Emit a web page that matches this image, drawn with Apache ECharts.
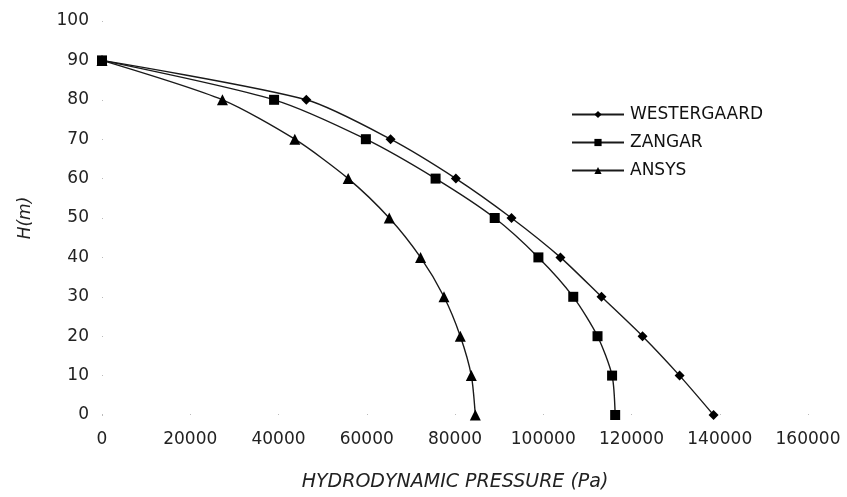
<!DOCTYPE html>
<html><head><meta charset="utf-8">
<script src="https://cdn.jsdelivr.net/npm/echarts@6/dist/echarts.min.js"></script>
<style>html,body{margin:0;padding:0;background:#fff}#c{width:847px;height:497px}</style>
</head><body><div id="c"></div>
<script>
const heights = [90, 80, 70, 60, 50, 40, 30, 20, 10, 0];
const westergaard = [0, 46300, 65400, 80200, 92800, 103900, 113200, 122500, 130900, 138600];
const zangar = [0, 39000, 59800, 75600, 89000, 98900, 106800, 112300, 115600, 116300];
const ansys = [0, 27300, 43700, 55800, 65100, 72200, 77500, 81200, 83700, 84600];
const xTicks = [0, 20000, 40000, 60000, 80000, 100000, 120000, 140000, 160000];
const yTicks = [0, 10, 20, 30, 40, 50, 60, 70, 80, 90, 100];

const font = 'DejaVu Sans, sans-serif';
function pts(v){ return v.map((x,i)=>[x, heights[i]]); }
function mk(name, data, symbol, size){
  return {
    name, type:'line', data: pts(data), symbol, symbolSize:size, smooth:0.25,
    lineStyle:{color:'#1a1a1a', width:1.4}, itemStyle:{color:'#000'},
    showSymbol:true, animation:false, z: 3
  };
}
const chart = echarts.init(document.getElementById('c'), null, {renderer:'canvas'});
chart.setOption({
  backgroundColor:'#fff',
  animation:false,
  grid:{left:102, right:39, top:21, bottom:82, containLabel:false, outerBoundsMode:'none'},
  legend:{
    orient:'vertical', left:566, top:101, itemWidth:52, itemHeight:9, itemGap:11,
    textStyle:{fontFamily:font, fontSize:17, color:'#111', padding:[0,0,0,1]},
    data:['WESTERGAARD','ZANGAR','ANSYS']
  },
  xAxis:{
    type:'value', min:0, max:160000, interval:20000,
    axisLine:{show:false}, axisTick:{show:true, inside:true, length:1, lineStyle:{color:'#bbb'}},
    splitLine:{show:false},
    axisLabel:{fontFamily:font, fontSize:17, color:'#222', margin:16, formatter: v => String(v)},
    name:'HYDRODYNAMIC PRESSURE (Pa)', nameLocation:'middle', nameGap:58,
    nameTextStyle:{fontFamily:font, fontSize:19, fontStyle:'italic', color:'#222'}
  },
  yAxis:{
    type:'value', min:0, max:100, interval:10,
    axisLine:{show:false}, axisTick:{show:true, inside:true, length:1, lineStyle:{color:'#bbb'}},
    splitLine:{show:false},
    axisLabel:{fontFamily:font, fontSize:17, color:'#222', margin:13, formatter: v => String(v)},
    name:'H(m)', nameLocation:'middle', nameGap:68, nameRotate:90,
    nameTextStyle:{fontFamily:font, fontSize:17, fontStyle:'italic', color:'#222'}
  },
  series:[
    mk('WESTERGAARD', westergaard, 'diamond', 10),
    mk('ZANGAR', zangar, 'rect', 10),
    mk('ANSYS', ansys, 'triangle', 11)
  ]
});
</script></body></html>
